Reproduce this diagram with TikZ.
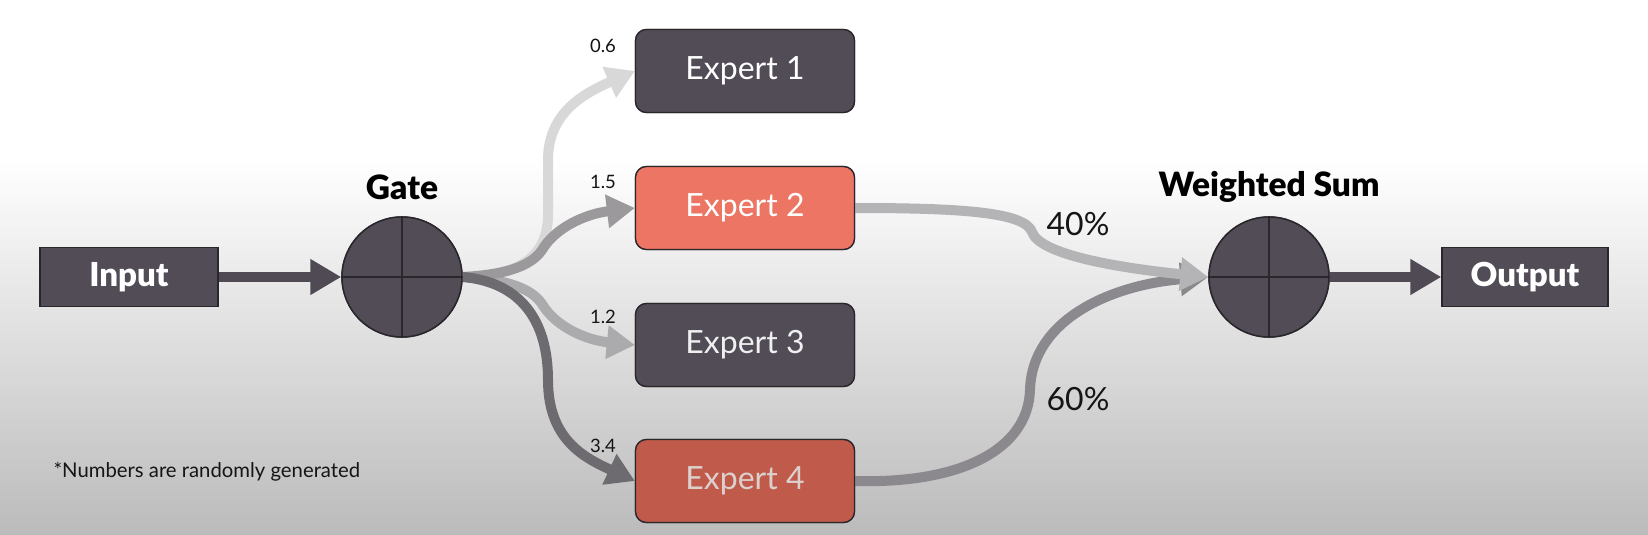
\documentclass[tikz,border=0pt]{standalone}
\usepackage{fontspec}
\setmainfont{Lato}
\newfontfamily\latoheavy{Lato Black}
\usetikzlibrary{arrows.meta}
\definecolor{boxdark}{HTML}{524C56}
\definecolor{boxline}{HTML}{2A272C}
\definecolor{extwo}{HTML}{EC7563}
\definecolor{exfour}{HTML}{C05B4B}
\definecolor{exfourtext}{HTML}{DCD0CE}
\definecolor{bgbot}{HTML}{BBBBBB}
\definecolor{aone}{HTML}{D8D8D8}
\definecolor{atwo}{HTML}{9B999C}
\definecolor{athree}{HTML}{ABAAAC}
\definecolor{afour}{HTML}{6E6B70}
\definecolor{awtwo}{HTML}{B4B3B5}
\definecolor{awfour}{HTML}{8B898D}
\definecolor{adark}{HTML}{4F4A53}
\definecolor{txt}{HTML}{151515}
\tikzset{
  expert/.style={draw=boxline, line width=1.3pt, rounded corners=11pt, minimum width=219pt, minimum height=83pt, inner sep=0pt, text=white, font=\fontsize{32}{38}\selectfont},
  iobox/.style={draw=boxline, line width=1.5pt, fill=boxdark, minimum width=178pt, minimum height=59pt, inner sep=0pt, text=white, font=\latoheavy\fontsize{33}{38}\selectfont},
  sumnode/.style={circle, draw=boxline, line width=1.5pt, fill=boxdark, minimum size=120pt, inner sep=0pt},
  title/.style={text=black, font=\latoheavy\fontsize{33.5}{38}\selectfont},
  weight/.style={text=txt, font=\fontsize{18.5}{22}\selectfont},
  pct/.style={text=txt, font=\fontsize{32}{38}\selectfont},
  flow/.style={line width=10pt, -{Triangle[length=28pt,width=32pt]}},
  bigflow/.style={line width=10pt, draw=adark, -{Triangle[length=31pt,width=34pt]}}
}
\begin{document}
\begin{tikzpicture}[x=1pt,y=-1pt]
\useasboundingbox (0,0) rectangle (1648,535);
\fill[white] (0,0) rectangle (1648,535);
\shade[top color=white, bottom color=bgbot] (0,160) rectangle (1648,535);

% nodes (positions)
\node[iobox] (in) at (129,277) {Input};
\node[sumnode] (G) at (402,277) {};
\node[title] (gt) at (402,187) {Gate};
\node[expert, fill=boxdark] (E1) at (745,71) {Expert 1};
\node[expert, fill=extwo] (E2) at (745,208) {Expert 2};
\node[expert, fill=boxdark, text=white!90!gray] (E3) at (745,345) {Expert 3};
\node[expert, fill=exfour, text=exfourtext] (E4) at (745,481) {Expert 4};
\node[sumnode] (WS) at (1269,277) {};
\node[title] (wt) at (1269,187) {Weighted Sum};
\node[iobox, minimum width=166pt] (out) at (1525,277) {Output};

% connectors
\draw[bigflow] (in.east) -- (G.west);
\draw[bigflow] (WS.east) -- (out.west);
\draw[flow, draw=aone] (G.east) .. controls (510,277) and (548,262) .. (548,215) -- (548,160) .. controls (548,112) and (585,93) .. (E1.west);
\draw[flow, draw=athree] (G.east) .. controls (500,279) and (530,286) .. (542,304) .. controls (555,326) and (585,340) .. (E3.west);
\draw[flow, draw=atwo] (G.east) .. controls (500,275) and (530,268) .. (542,250) .. controls (555,228) and (585,214) .. (E2.west);
\draw[flow, draw=afour] (G.east) .. controls (520,282) and (548,320) .. (548,380) .. controls (548,440) and (585,458) .. (E4.west);
\draw[flow, draw=awfour] (E4.east) .. controls (960,484) and (1028,450) .. (1030,390) .. controls (1032,320) and (1110,285) .. (WS.west);
\draw[flow, draw=awtwo] (E2.east) .. controls (960,208) and (1025,212) .. (1032,232) .. controls (1040,255) and (1120,268) .. (WS.west);

% redraw nodes on top
\node[iobox] at (in) {Input};
\node[sumnode] (G2) at (402,277) {};
\draw[boxline, line width=1.5pt] (G2.north) -- (G2.south) (G2.west) -- (G2.east);
\node[expert, fill=boxdark] at (E1) {Expert 1};
\node[expert, fill=extwo] at (E2) {Expert 2};
\node[expert, fill=boxdark, text=white!88!gray] at (E3) {Expert 3};
\node[expert, fill=exfour, text=exfourtext] at (E4) {Expert 4};
\node[sumnode] (WS2) at (1269,277) {};
\draw[boxline, line width=1.5pt] (WS2.north) -- (WS2.south) (WS2.west) -- (WS2.east);
\node[iobox, minimum width=166pt] at (out) {Output};

% labels
\node[weight] (w1) at (603,46) {0.6};
\node[weight] (w2) at (603,182) {1.5};
\node[weight] (w3) at (603,317) {1.2};
\node[weight] (w4) at (603,446) {3.4};
\node[pct] (p40) at (1078,224) {40\%};
\node[pct] (p60) at (1078,399) {60\%};
\node[anchor=west, text=txt, font=\fontsize{20.3}{24}\selectfont] (note) at (50,472) {*Numbers are randomly generated};
\end{tikzpicture}
\end{document}
